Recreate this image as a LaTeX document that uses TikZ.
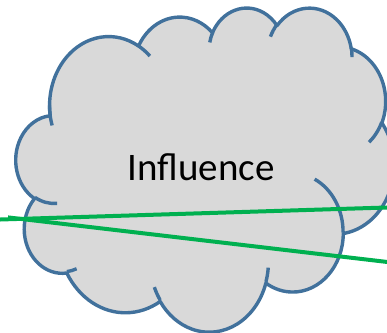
\documentclass[tikz,border=0pt]{standalone}
\usepackage{fontspec}
\setmainfont{Carlito}
\usetikzlibrary{positioning}
\definecolor{cloudgray}{HTML}{D9D9D9}
\definecolor{cloudblue}{HTML}{41719C}
\definecolor{linkgreen}{HTML}{00B050}
\tikzset{
  cloudline/.style={draw=cloudblue, line width=3.4pt, line join=round},
  linkline/.style={draw=linkgreen, line width=4pt},
}
\begin{document}
\begin{tikzpicture}[x=1pt, y=1pt, yscale=-1]
\clip (0,0) rectangle (387,332);
% Cloud body
\begin{scope}[shift={(16,7)}, xscale=0.875, yscale=0.75]
\filldraw[fill=cloudgray, cloudline] (39.00,143.70)
  \foreach \w/\h/\s/\d [evaluate=\s as \ta using {atan2(\w*sin(\s),\h*cos(\s))},
      evaluate=\s as \td using {mod(atan2(\w*sin(\s+\d),\h*cos(\s+\d))-atan2(\w*sin(\s),\h*cos(\s))+720,360)}]
  in {67.53/91.90/-190.4875/123.7805, 53.33/72.67/-144.1024/89.9452,
      43.65/59.45/-145.8079/99.7230, 48.57/65.95/-130.9861/117.2417,
      53.33/72.73/-78.7089/109.0269, 67.75/92.20/-46.2673/130.2690,
      57.85/78.67/0.6250/114.0333, 67.52/92.15/22.4516/115.1726,
      77.20/105.43/66.2426/75.7110, 43.60/59.18/-274.9421/146.7356,
      43.45/59.45/-246.8285/152.5189}
  { arc[x radius=\w, y radius=\h, start angle=\ta, delta angle=\td] } -- cycle;
% Inner hooks
\draw[cloudline]
  \foreach \x/\y/\w/\h/\s/\d [evaluate=\s as \ta using {atan2(\w*sin(\s),\h*cos(\s))},
      evaluate=\s as \td using {mod(atan2(\w*sin(\s+\d),\h*cos(\s+\d))-atan2(\w*sin(\s),\h*cos(\s))+720,360)}]
  in {46.93/261.77/43.45/59.45/86.7420/26.4295, 69.28/348.99/43.60/59.18/73.6105/11.4475,
      164.78/390.90/67.52/92.15/137.6242/14.0811, 288.27/347.51/67.52/92.15/6.4533/15.9984,
      341.29/229.54/57.85/78.67/-70.2924/70.9174, 417.98/153.54/53.33/72.73/30.3180/27.7515,
      383.24/54.26/48.57/65.95/-13.7443/14.8589, 290.78/39.52/48.57/65.95/-149.1815/18.1954,
      221.41/47.20/43.65/59.45/-163.4943/17.6864, 140.00/51.92/67.53/91.90/-66.7070/12.3194,
      41.27/157.89/67.53/91.90/157.1541/22.3921}
  { (\x,\y) arc[x radius=\w, y radius=\h, start angle=\ta, delta angle=\td] };
\end{scope}
% Label
\node[font=\fontsize{39}{47}\selectfont, anchor=base, inner sep=0pt] (influence) at (201,180) {Influence};
% Green links
\coordinate (upin) at (-3,219.6);
\coordinate (upout) at (390,207.4);
\coordinate (lowin) at (8,217.4);
\coordinate (lowout) at (390,262.3);
\draw[linkline] (upin) -- (upout);
\draw[linkline] (lowin) -- (lowout);
\end{tikzpicture}
\end{document}
